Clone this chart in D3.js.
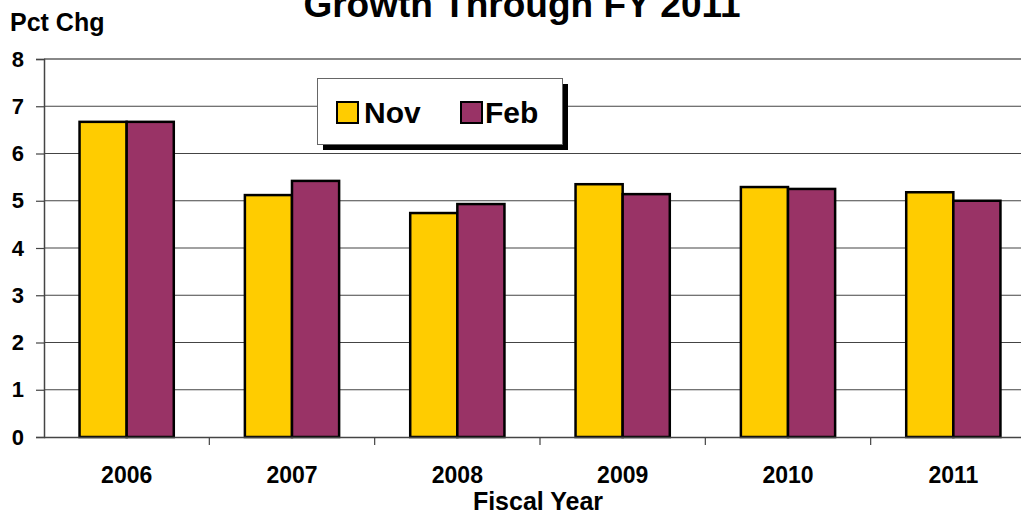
<!DOCTYPE html>
<html><head><meta charset="utf-8">
<script src="https://cdn.jsdelivr.net/npm/d3@7"></script>
<style>body{margin:0;background:#fff}svg{display:block;font-family:"Liberation Sans",Arial,sans-serif;font-weight:bold}</style>
</head><body>
<script>
const categories = ["2006","2007","2008","2009","2010","2011"];
const seriesNames = ["Nov","Feb"];
const novValues = [6.67, 5.12, 4.74, 5.35, 5.29, 5.18];
const febValues = [6.67, 5.42, 4.93, 5.14, 5.25, 5.00];
const yTicks = [0,1,2,3,4,5,6,7,8];
const colors = ["#FFCC00", "#993366"];

(function(){
const W = 1021, H = 512;
const svg = d3.select("body").append("svg").attr("width", W).attr("height", H);
const pLeft = 44, pRight = 1036, pTop = 59, pBottom = 437;

const x = d3.scaleBand().domain(categories).range([pLeft, pRight]).paddingInner(0).paddingOuter(0);
const y = d3.scaleLinear().domain([0, 8]).range([pBottom, pTop]);

// gridlines
svg.append("g").selectAll("line").data(yTicks.filter(d => d > 0)).join("line")
  .attr("x1", pLeft).attr("x2", W).attr("y1", d => y(d)).attr("y2", d => y(d))
  .attr("stroke", d => d === 8 ? "#888" : "#444").attr("stroke-width", d => d === 8 ? 2 : 1.2);

// bars
const data = categories.map((c, i) => ({c, vals: [novValues[i], febValues[i]]}));
const groups = svg.append("g").selectAll("g").data(data).join("g")
  .attr("transform", d => `translate(${x(d.c)},0)`);
const bw = x.bandwidth() * 0.285;
const gx = (x.bandwidth() - 2 * bw) / 2;
groups.selectAll("rect").data(d => d.vals.map((v, k) => ({v, k}))).join("rect")
  .attr("x", d => gx + d.k * bw).attr("width", bw)
  .attr("y", d => y(d.v)).attr("height", d => y(0) - y(d.v))
  .attr("fill", d => colors[d.k]).attr("stroke", "#000").attr("stroke-width", 2.5);

// y axis
const yAxis = svg.append("g").attr("transform", `translate(${pLeft},0)`)
  .call(d3.axisLeft(y).tickValues(yTicks).tickSize(8).tickPadding(12).tickFormat(d3.format("d")));
yAxis.select(".domain").attr("stroke", "#444").attr("stroke-width", 1.5);
yAxis.selectAll(".tick line").attr("stroke", "#444").attr("stroke-width", 1.2);
yAxis.selectAll("text").attr("font-size", 22).attr("font-weight", "bold").attr("fill", "#000")
  .attr("font-family", '"Liberation Sans",Arial,sans-serif');

// x axis
const xAxis = svg.append("g").attr("transform", `translate(0,${pBottom})`)
  .call(d3.axisBottom(x).tickSize(0).tickPadding(30));
xAxis.select(".domain").attr("stroke", "#444").attr("stroke-width", 1.5).attr("d", `M${pLeft},0.5H${W}`);
xAxis.selectAll("text").attr("font-size", 23).attr("font-weight", "bold").attr("fill", "#000")
  .attr("font-family", '"Liberation Sans",Arial,sans-serif');
svg.append("g").selectAll("line").data(categories.slice(1)).join("line")
  .attr("x1", d => x(d)).attr("x2", d => x(d)).attr("y1", pBottom).attr("y2", pBottom + 8)
  .attr("stroke", "#444").attr("stroke-width", 1.2);

// titles
svg.append("text").attr("x", 522).attr("y", 17).attr("text-anchor", "middle")
  .attr("font-size", 37).text("Growth Through FY 2011");
svg.append("text").attr("x", 10).attr("y", 31).attr("font-size", 25).text("Pct Chg");
svg.append("text").attr("x", 538).attr("y", 510).attr("text-anchor", "middle")
  .attr("font-size", 25).text("Fiscal Year");

// legend
const lg = svg.append("g");
lg.append("rect").attr("x", 323).attr("y", 84).attr("width", 245).attr("height", 66).attr("fill", "#000");
lg.append("rect").attr("x", 317.5).attr("y", 78.5).attr("width", 245).attr("height", 66)
  .attr("fill", "#fff").attr("stroke", "#666").attr("stroke-width", 1);
const legX = [337, 461], txtX = [364, 485];
seriesNames.forEach((s, i) => {
  lg.append("rect").attr("x", legX[i]).attr("y", 102).attr("width", 21).attr("height", 21)
    .attr("fill", colors[i]).attr("stroke", "#000").attr("stroke-width", 2);
  lg.append("text").attr("x", txtX[i]).attr("y", 123).attr("font-size", 30).text(s);
});
})();
</script>
</body></html>
